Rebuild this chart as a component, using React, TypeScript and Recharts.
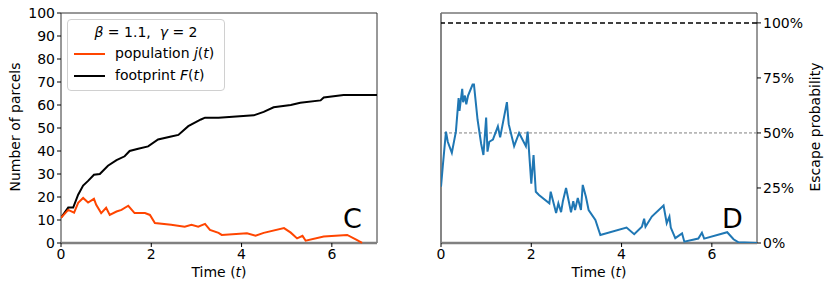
import React from 'react';
import {
    LineChart,
    Line,
    XAxis,
    YAxis,
    ReferenceLine,
    ReferenceArea,
} from 'recharts';

// panel C: footprint F(t) and population j(t)
const footprintT = [0, 0.16, 0.27, 0.38, 0.49, 0.6, 0.73, 0.86, 1.04, 1.23, 1.41, 1.52, 1.71, 1.93, 2.15, 2.44, 2.6, 2.82, 3.1, 3.19, 3.49, 4.27, 4.49, 4.71, 5.09, 5.3, 5.75, 5.82, 6.26, 7.0];
const footprintV = [11, 15.4, 15.4, 21, 25, 27, 29.7, 30, 33.6, 36, 37.7, 40, 41, 42, 45, 46.3, 47, 50.8, 53.7, 54.5, 54.5, 55.5, 57, 59, 60, 61, 62, 63.3, 64.3, 64.3];

const populationT = [0, 0.16, 0.29, 0.38, 0.49, 0.6, 0.73, 0.78, 0.89, 1.0, 1.08, 1.23, 1.34, 1.49, 1.63, 1.86, 1.97, 2.08, 2.44, 2.74, 2.89, 3.04, 3.19, 3.3, 3.49, 3.56, 4.12, 4.31, 4.49, 4.94, 5.09, 5.23, 5.35, 5.42, 5.82, 6.34, 6.56, 6.67];
const populationV = [11, 14.4, 13.2, 17.5, 19.6, 17.6, 19.2, 16.6, 13, 15.3, 12.2, 13.7, 14.4, 16.2, 13, 13, 12.2, 8.7, 7.9, 7.1, 7.9, 7.1, 8.3, 5.7, 4.4, 3.5, 4.2, 3.2, 4.4, 6.5, 4.5, 2.0, 3.1, 1.0, 2.8, 3.5, 1.3, 0.1];

// panel D: escape probability
const escapeT = [0, 0.04, 0.11, 0.15, 0.24, 0.33, 0.39, 0.41, 0.47, 0.49, 0.53, 0.56, 0.6, 0.7, 0.73, 0.81, 0.89, 0.94, 1.0, 1.03, 1.07, 1.15, 1.26, 1.31, 1.46, 1.5, 1.62, 1.73, 1.88, 1.92, 2.0, 2.05, 2.1, 2.17, 2.4, 2.43, 2.55, 2.6, 2.66, 2.7, 2.77, 2.88, 2.93, 2.97, 3.03, 3.1, 3.14, 3.21, 3.27, 3.42, 3.53, 4.11, 4.28, 4.45, 4.5, 4.53, 4.67, 4.93, 5.0, 5.06, 5.09, 5.19, 5.34, 5.39, 5.7, 5.78, 5.83, 6.34, 6.48, 6.59, 7.0];
const escapeP = [0.256, 0.35, 0.506, 0.46, 0.41, 0.506, 0.658, 0.6, 0.7, 0.64, 0.67, 0.63, 0.67, 0.72, 0.72, 0.56, 0.45, 0.4, 0.57, 0.415, 0.46, 0.47, 0.53, 0.48, 0.64, 0.54, 0.44, 0.5, 0.44, 0.506, 0.27, 0.4, 0.233, 0.218, 0.18, 0.233, 0.136, 0.18, 0.14, 0.19, 0.25, 0.14, 0.19, 0.15, 0.205, 0.15, 0.264, 0.21, 0.15, 0.105, 0.036, 0.07, 0.04, 0.074, 0.11, 0.074, 0.12, 0.17, 0.09, 0.12, 0.07, 0.022, 0.044, 0.006, 0.02, 0.047, 0.02, 0.049, 0.017, 0.003, 0];

const xTicks = [0, 2, 4, 6];
const countTicks = [0, 10, 20, 30, 40, 50, 60, 70, 80, 90, 100];
const probTicks = [0, 0.25, 0.5, 0.75, 1];

const toRows = (ts: number[], vs: number[]) => ts.map((t, i) => ({ t, v: vs[i] }));

const FONT = '"DejaVu Sans", sans-serif';
const tickStyle = { fontSize: 14, fill: '#000', fontFamily: FONT };
const frame = '#333';
const labelSize = 14;

const App: React.FC = () => {
    const footprint = toRows(footprintT, footprintV);
    const population = toRows(populationT, populationV);
    const escape = toRows(escapeT, escapeP);

    return (
        <div style={{ position: 'absolute', left: 0, top: 0, width: 830, height: 290, background: '#fff', fontFamily: FONT, overflow: 'hidden' }}>
            <div style={{ position: 'absolute', left: 0, top: 0 }}>
                <LineChart width={400} height={290} margin={{ top: 13, right: 23, left: 0, bottom: 0 }}>
                    <XAxis
                        type="number"
                        dataKey="t"
                        domain={[0, 7]}
                        ticks={xTicks}
                        allowDataOverflow
                        height={47}
                        tick={tickStyle}
                        tickLine={{ stroke: '#000' }}
                        tickSize={4}
                        axisLine={false}
                    />
                    <YAxis
                        type="number"
                        domain={[0, 100]}
                        ticks={countTicks}
                        width={61}
                        tick={tickStyle}
                        tickLine={{ stroke: '#000' }}
                        tickSize={4}
                        axisLine={false}
                    />
                    <ReferenceArea x1={0} x2={7} y1={0} y2={100} fill="none" stroke={frame} strokeWidth={1} ifOverflow="visible" />
                    <ReferenceLine y={0} stroke="#808080" strokeWidth={2.5} />
                    <Line data={footprint} dataKey="v" type="linear" stroke="#000" strokeWidth={2} dot={false} isAnimationActive={false} />
                    <Line data={population} dataKey="v" type="linear" stroke="#ff4500" strokeWidth={2} dot={false} isAnimationActive={false} />
                </LineChart>
            </div>

            <div style={{ position: 'absolute', left: 400, top: 0 }}>
                <LineChart width={430} height={290} margin={{ top: 13, right: 0, left: 41, bottom: 0 }}>
                    <XAxis
                        type="number"
                        dataKey="t"
                        domain={[0, 7]}
                        ticks={xTicks}
                        allowDataOverflow
                        height={47}
                        tick={tickStyle}
                        tickLine={{ stroke: '#000' }}
                        tickSize={4}
                        axisLine={false}
                    />
                    <YAxis
                        type="number"
                        orientation="right"
                        domain={[0, 1.045]}
                        allowDataOverflow
                        ticks={probTicks}
                        width={73}
                        tick={tickStyle}
                        tickLine={{ stroke: '#000' }}
                        tickSize={4}
                        axisLine={false}
                        tickFormatter={(v: number) => `${Math.round(v * 100)}%`}
                    />
                    <ReferenceArea x1={0} x2={7} y1={0} y2={1.045} fill="none" stroke={frame} strokeWidth={1} ifOverflow="visible" />
                    <ReferenceLine y={0} stroke="#808080" strokeWidth={2.5} />
                    <ReferenceLine x={0} stroke="#808080" strokeWidth={1.5} />
                    <ReferenceLine y={1} stroke="#000" strokeWidth={1.5} strokeDasharray="5 3" />
                    <ReferenceLine y={0.5} stroke="#808080" strokeWidth={1} strokeDasharray="3 2" />
                    <Line data={escape} dataKey="v" type="linear" stroke="#1f77b4" strokeWidth={2} dot={false} isAnimationActive={false} />
                </LineChart>
            </div>

            {/* axis titles */}
            <div style={{ position: 'absolute', left: 119, width: 200, top: 264, textAlign: 'center', fontSize: labelSize }}>
                Time (<i>t</i>)
            </div>
            <div style={{ position: 'absolute', left: 499, width: 200, top: 264, textAlign: 'center', fontSize: labelSize }}>
                Time (<i>t</i>)
            </div>
            <div style={{ position: 'absolute', left: 15 - 100, width: 200, top: 128 - 9, textAlign: 'center', fontSize: labelSize, transform: 'rotate(-90deg)', whiteSpace: 'nowrap' }}>
                Number of parcels
            </div>
            <div style={{ position: 'absolute', left: 815 - 100, width: 200, top: 128 - 9, textAlign: 'center', fontSize: labelSize, transform: 'rotate(-90deg)', whiteSpace: 'nowrap' }}>
                Escape probability
            </div>

            {/* legend of panel C */}
            <div style={{ position: 'absolute', left: 67, top: 19, width: 156, height: 70, border: '1px solid #d0d0d0', borderRadius: 4, background: 'rgba(255,255,255,0.85)', fontSize: labelSize, color: '#000' }}>
                <div style={{ position: 'absolute', left: 0, width: 156, top: 4, textAlign: 'center', whiteSpace: 'nowrap' }}>
                    <i>β</i> = 1.1,&nbsp; <i>γ</i> = 2
                </div>
                <div style={{ position: 'absolute', left: 6, top: 33, width: 31, height: 2, background: '#ff4500' }} />
                <div style={{ position: 'absolute', left: 47, top: 25, whiteSpace: 'nowrap' }}>
                    population <i>j</i>(<i>t</i>)
                </div>
                <div style={{ position: 'absolute', left: 6, top: 55, width: 31, height: 2, background: '#000' }} />
                <div style={{ position: 'absolute', left: 47, top: 47, whiteSpace: 'nowrap' }}>
                    footprint <i>F</i>(<i>t</i>)
                </div>
            </div>

            <div style={{ position: 'absolute', left: 343, top: 203, fontSize: 27, color: '#000' }}>C</div>
            <div style={{ position: 'absolute', left: 722, top: 203, fontSize: 27, color: '#000' }}>D</div>
        </div>
    );
};

export default App;
